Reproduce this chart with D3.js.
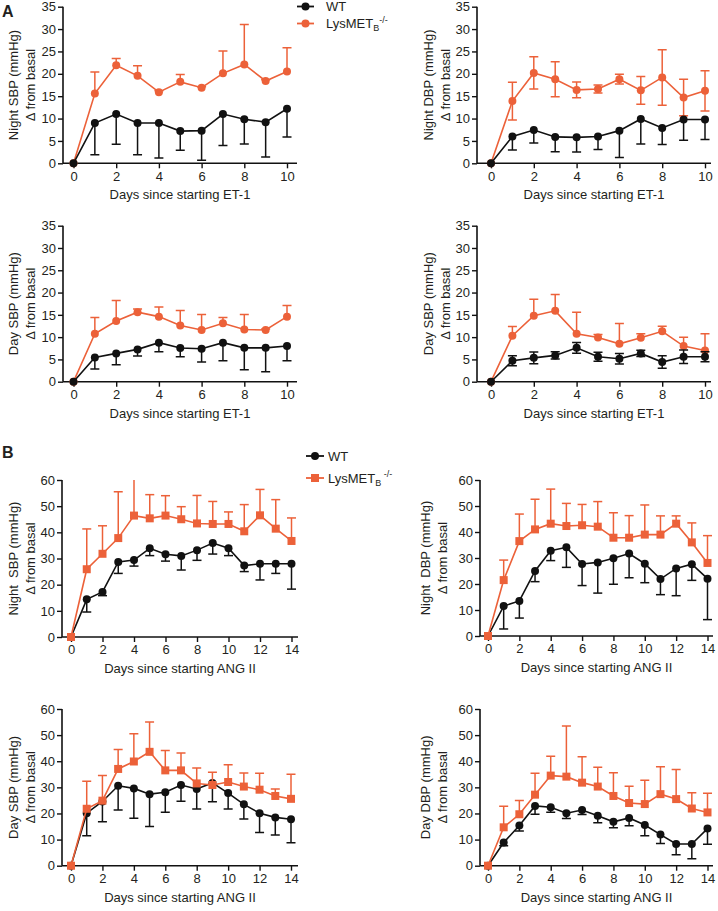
<!DOCTYPE html>
<html><head><meta charset="utf-8">
<script src="https://cdn.jsdelivr.net/npm/d3@7"></script>
<style>
body{margin:0;background:#fff;}
text{font-family:"Liberation Sans",Arial,Helvetica,sans-serif;fill:#231f20;white-space:pre;}
</style></head>
<body>
<svg id="c" width="718" height="911"></svg>
<script>
// ---------- DATA ----------
const daysET = [0,1,2,3,4,5,6,7,8,9,10];
const daysANG = [0,1,2,3,4,5,6,7,8,9,10,11,12,13,14];
const xTicksET = [0,2,4,6,8,10];
const xTicksANG = [0,2,4,6,8,10,12,14];
const yTicksET = [0,5,10,15,20,25,30,35];
const yTicksANG = [0,10,20,30,40,50,60];
const seriesNames = ["WT", "LysMET"];

// A: Night SBP, ET-1
const nightSbpEtWT     = [0, 9.0, 11.0, 9.0, 9.0, 7.2, 7.3, 11.0, 9.85, 9.2, 12.2];
const nightSbpEtWTsem  = [0, 7.1, 6.75, 7.1, 7.8, 4.3, 6.6, 7.0, 5.55, 7.8, 6.3];
const nightSbpEtKO     = [0, 15.6, 21.9, 19.55, 15.9, 18.2, 16.9, 20.1, 22.1, 18.4, 20.5];
const nightSbpEtKOsem  = [0, 4.8, 1.5, 2.25, 0.3, 1.65, 0.2, 5.0, 8.9, 0.3, 5.3];
// A: Night DBP, ET-1
const nightDbpEtWT     = [0, 6.0, 7.45, 5.9, 5.8, 6.0, 7.3, 9.9, 7.9, 9.8, 9.8];
const nightDbpEtWTsem  = [0, 3.0, 2.9, 3.3, 3.3, 2.9, 6.0, 5.6, 3.7, 4.65, 4.5];
const nightDbpEtKO     = [0, 13.9, 20.2, 18.8, 16.4, 16.6, 18.8, 16.3, 19.2, 14.7, 16.2];
const nightDbpEtKOsem  = [0, 4.2, 3.6, 3.9, 1.75, 0.9, 1.1, 3.1, 6.2, 4.1, 4.5];
// A: Day SBP, ET-1 (left)
const daySbpEtWT       = [0, 5.45, 6.35, 7.25, 8.75, 7.55, 7.4, 8.75, 7.6, 7.6, 8.0];
const daySbpEtWTsem    = [0, 2.6, 2.55, 1.5, 2.05, 1.95, 3.0, 4.05, 4.9, 5.35, 3.3];
const daySbpEtKO       = [0, 10.75, 13.6, 15.6, 14.6, 12.6, 11.6, 13.1, 11.7, 11.6, 14.6];
const daySbpEtKOsem    = [0, 3.65, 4.6, 0.7, 2.15, 3.4, 3.5, 1.3, 3.4, 0.2, 2.5];
// A: Day SBP, ET-1 (right)
const daySbpEt2WT      = [0, 4.7, 5.35, 5.9, 7.6, 5.6, 5.15, 6.35, 4.4, 5.6, 5.6];
const daySbpEt2WTsem   = [0, 1.1, 1.3, 0.8, 1.2, 1.0, 1.2, 0.7, 1.4, 1.5, 1.1];
const daySbpEt2KO      = [0, 10.3, 14.8, 15.9, 10.75, 9.9, 8.5, 9.85, 11.3, 8.0, 7.0];
const daySbpEt2KOsem   = [0, 2.1, 3.7, 3.65, 4.85, 0.7, 4.55, 0.9, 1.15, 2.0, 3.75];
// B: Night SBP, ANG II
const nightSbpAngWT    = [0, 14.4, 17.2, 28.7, 29.4, 33.9, 31.6, 31.0, 33.2, 35.9, 33.9, 27.3, 28.0, 28.0, 28.0];
const nightSbpAngWTsem = [0, 4.85, 1.4, 4.4, 2.3, 2.8, 2.6, 5.4, 3.9, 4.2, 2.8, 2.3, 6.2, 3.7, 9.7];
const nightSbpAngKO    = [0, 25.9, 31.8, 37.8, 46.4, 45.35, 46.4, 45.0, 43.4, 43.2, 43.2, 40.4, 46.5, 41.4, 36.7];
const nightSbpAngKOsem = [0, 15.4, 10.7, 17.7, 14.5, 9.05, 7.6, 4.8, 10.7, 8.6, 4.6, 10.2, 9.9, 11.1, 8.8];
// B: Night DBP, ANG II
const nightDbpAngWT    = [0, 11.5, 13.5, 25.0, 32.8, 34.1, 27.7, 28.3, 29.9, 31.7, 27.8, 21.9, 26.0, 27.6, 22.05];
const nightDbpAngWTsem = [0, 8.8, 6.6, 4.1, 3.8, 7.7, 8.3, 11.8, 10.0, 9.3, 7.3, 6.0, 10.5, 6.2, 15.75];
const nightDbpAngKO    = [0, 21.5, 36.5, 41.0, 43.2, 42.3, 42.6, 42.05, 37.8, 37.8, 39.0, 39.0, 43.2, 36.0, 28.1];
const nightDbpAngKOsem = [0, 7.7, 10.4, 11.6, 13.3, 8.7, 8.0, 9.65, 9.6, 8.5, 11.4, 7.2, 3.0, 7.5, 10.5];
// B: Day SBP, ANG II
const daySbpAngWT      = [0, 20.1, 24.6, 30.6, 29.6, 27.4, 28.1, 30.9, 29.4, 31.7, 27.8, 23.5, 20.1, 18.5, 17.8];
const daySbpAngWTsem   = [0, 8.6, 7.8, 9.3, 11.4, 12.4, 7.6, 6.2, 7.7, 7.2, 6.1, 5.6, 7.4, 6.7, 9.0];
const daySbpAngKO      = [0, 21.8, 24.9, 37.05, 39.9, 43.6, 36.5, 36.5, 31.5, 30.9, 32.05, 30.3, 29.1, 26.7, 25.6];
const daySbpAngKOsem   = [0, 10.5, 9.6, 7.45, 10.6, 11.4, 7.6, 6.7, 5.9, 4.9, 6.65, 5.2, 6.3, 2.7, 9.4];
// B: Day DBP, ANG II
const dayDbpAngWT      = [0, 8.85, 15.4, 22.9, 22.4, 20.1, 21.3, 19.1, 16.8, 18.3, 15.6, 11.9, 8.3, 8.3, 14.2];
const dayDbpAngWTsem   = [0, 1.25, 2.1, 3.2, 1.9, 2.0, 1.7, 2.7, 2.3, 3.0, 4.1, 3.4, 4.1, 5.6, 6.0];
const dayDbpAngKO      = [0, 14.7, 19.7, 27.2, 34.5, 34.1, 31.8, 30.3, 26.7, 24.0, 23.6, 27.4, 25.5, 21.9, 20.4];
const dayDbpAngKOsem   = [0, 8.1, 5.3, 8.2, 7.4, 19.4, 9.9, 7.4, 8.9, 6.4, 9.1, 10.5, 11.3, 6.0, 7.3];

// ---------- STYLE / LAYOUT ----------
const BLACK = "#111111", ORANGE = "#EC6139";
const svg = d3.select("#c");

const panels = [
  {days:daysET, xt:xTicksET, yt:yTicksET, ymax:35, xmax:10, ax:63, x0:73.5, x1:287, xe:297, y0:163.3, y1:6.7,
   wt:nightSbpEtWT, wts:nightSbpEtWTsem, ko:nightSbpEtKO, kos:nightSbpEtKOsem, wtDir:"down", koDir:"up", sq:false,
   ylab:["Night SBP (mmHg)","\u0394 from basal"], ylx:13, xlab:"Days since starting ET-1", koFirst:true},
  {days:daysET, xt:xTicksET, yt:yTicksET, ymax:35, xmax:10, ax:477, x0:491, x1:705, xe:711, y0:163.3, y1:6.7,
   wt:nightDbpEtWT, wts:nightDbpEtWTsem, ko:nightDbpEtKO, kos:nightDbpEtKOsem, wtDir:"down", koDir:"both", sq:false,
   ylab:["Night DBP (mmHg)","\u0394 from basal"], ylx:428, xlab:"Days since starting ET-1", koFirst:true},
  {days:daysET, xt:xTicksET, yt:yTicksET, ymax:35, xmax:10, ax:63, x0:73.5, x1:287, xe:297, y0:381.7, y1:225.7,
   wt:daySbpEtWT, wts:daySbpEtWTsem, ko:daySbpEtKO, kos:daySbpEtKOsem, wtDir:"down", koDir:"up", sq:false,
   ylab:["Day SBP (mmHg)","\u0394 from basal"], ylx:13, xlab:"Days since starting ET-1", koFirst:true},
  {days:daysET, xt:xTicksET, yt:yTicksET, ymax:35, xmax:10, ax:477, x0:491, x1:705, xe:711, y0:381.7, y1:225.7,
   wt:daySbpEt2WT, wts:daySbpEt2WTsem, ko:daySbpEt2KO, kos:daySbpEt2KOsem, wtDir:"both", koDir:"up", sq:false,
   ylab:["Day SBP (mmHg)","\u0394 from basal"], ylx:428, xlab:"Days since starting ET-1", koFirst:true},
  {days:daysANG, xt:xTicksANG, yt:yTicksANG, ymax:60, xmax:14, ax:62, x0:71, x1:291.5, xe:298, y0:637, y1:480,
   wt:nightSbpAngWT, wts:nightSbpAngWTsem, ko:nightSbpAngKO, kos:nightSbpAngKOsem, wtDir:"down", koDir:"up", sq:true,
   ylab:["Night  SBP (mmHg)","\u0394 from basal"], ylx:13, xlab:"Days since starting ANG II", koFirst:false},
  {days:daysANG, xt:xTicksANG, yt:yTicksANG, ymax:60, xmax:14, ax:480, x0:488, x1:707.5, xe:713, y0:636, y1:480,
   wt:nightDbpAngWT, wts:nightDbpAngWTsem, ko:nightDbpAngKO, kos:nightDbpAngKOsem, wtDir:"down", koDir:"up", sq:true,
   ylab:["Night  DBP (mmHg)","\u0394 from basal"], ylx:425, xlab:"Days since starting ANG II", koFirst:false},
  {days:daysANG, xt:xTicksANG, yt:yTicksANG, ymax:60, xmax:14, ax:62, x0:71, x1:291, xe:298, y0:865.7, y1:709,
   wt:daySbpAngWT, wts:daySbpAngWTsem, ko:daySbpAngKO, kos:daySbpAngKOsem, wtDir:"down", koDir:"up", sq:true,
   ylab:["Day SBP (mmHg)","\u0394 from basal"], ylx:13, xlab:"Days since starting ANG II", koFirst:false},
  {days:daysANG, xt:xTicksANG, yt:yTicksANG, ymax:60, xmax:14, ax:480, x0:488, x1:707.5, xe:713, y0:865.7, y1:709,
   wt:dayDbpAngWT, wts:dayDbpAngWTsem, ko:dayDbpAngKO, kos:dayDbpAngKOsem, wtDir:"down", koDir:"up", sq:true,
   ylab:["Day DBP (mmHg)","\u0394 from basal"], ylx:425, xlab:"Days since starting ANG II", koFirst:false}
];

panels.forEach((p, pi) => {
  const x = d3.scaleLinear().domain([0, p.xmax]).range([p.x0, p.x1]);
  const y = d3.scaleLinear().domain([0, p.ymax]).range([p.y0, p.y1]);
  const g = svg.append("g");
  const clipId = "clip" + pi;
  svg.append("clipPath").attr("id", clipId).append("rect")
    .attr("x", p.ax - 20).attr("y", p.y1).attr("width", p.xe - p.ax + 40).attr("height", p.y0 - p.y1 + 20);

  // axes
  const yAxis = d3.axisLeft(y).tickValues(p.yt).tickSize(5).tickPadding(2).tickSizeOuter(0);
  const ya = g.append("g").attr("transform", `translate(${p.ax},0)`).call(yAxis);
  ya.select(".domain").remove();
  ya.append("line").attr("x1",0).attr("x2",0).attr("y1",p.y0).attr("y2",p.y1).attr("stroke",BLACK).attr("stroke-width",1.6);
  const xAxis = d3.axisBottom(x).tickValues(p.xt).tickSize(5).tickPadding(3).tickSizeOuter(0);
  const xa = g.append("g").attr("transform", `translate(0,${p.y0})`).call(xAxis);
  xa.select(".domain").remove();
  xa.append("line").attr("x1",p.ax).attr("x2",p.xe).attr("y1",0).attr("y2",0).attr("stroke",BLACK).attr("stroke-width",1.6);
  [ya, xa].forEach(a => {
    a.selectAll(".tick line").attr("stroke", BLACK).attr("stroke-width", 1.4);
    a.selectAll(".tick text").attr("fill", "#231f20").style("font-size", "13px")
      .style("font-family", '"Liberation Sans",Arial,sans-serif');
  });

  // axis titles
  const ymid = (p.y0 + p.y1) / 2;
  p.ylab.forEach((t, i) => {
    g.append("text").attr("transform", `translate(${p.ylx + i*17},${ymid}) rotate(-90)`)
      .attr("text-anchor","middle").attr("dy","0.35em").style("font-size","13px").text(t);
  });
  g.append("text").attr("x", (p.ax + p.xe)/2).attr("y", p.y0 + 36)
    .attr("text-anchor","middle").style("font-size","13px").text(p.xlab);

  const drawSeries = (vals, sems, dir, color, square) => {
    const pts = p.days.map((d, i) => ({d, v: vals[i], s: sems[i]}));
    const eg = g.append("g").attr("clip-path", `url(#${clipId})`);
    pts.filter(o => o.s > 0).forEach(o => {
      const top = dir === "down" ? o.v : o.v + o.s;
      const bot = dir === "up" ? o.v : o.v - o.s;
      eg.append("line").attr("x1", x(o.d)).attr("x2", x(o.d)).attr("y1", y(top)).attr("y2", y(bot))
        .attr("stroke", color).attr("stroke-width", 1.5);
      if (dir !== "down") eg.append("line").attr("x1", x(o.d)-4.5).attr("x2", x(o.d)+4.5)
        .attr("y1", y(o.v + o.s)).attr("y2", y(o.v + o.s)).attr("stroke", color).attr("stroke-width", 1.5);
      if (dir !== "up") eg.append("line").attr("x1", x(o.d)-4.5).attr("x2", x(o.d)+4.5)
        .attr("y1", y(o.v - o.s)).attr("y2", y(o.v - o.s)).attr("stroke", color).attr("stroke-width", 1.5);
    });
    const line = d3.line().x(o => x(o.d)).y(o => y(o.v));
    g.append("path").datum(pts).attr("d", line).attr("fill","none").attr("stroke", color).attr("stroke-width", 1.6);
    if (square) {
      g.selectAll(null).data(pts).enter().append("rect")
        .attr("x", o => x(o.d) - 4).attr("y", o => y(o.v) - 4).attr("width", 8).attr("height", 8).attr("fill", color);
    } else {
      g.selectAll(null).data(pts).enter().append("circle")
        .attr("cx", o => x(o.d)).attr("cy", o => y(o.v)).attr("r", 4).attr("fill", color);
    }
  };
  if (p.koFirst) {
    drawSeries(p.ko, p.kos, p.koDir, ORANGE, p.sq);
    drawSeries(p.wt, p.wts, p.wtDir, BLACK, false);
  } else {
    drawSeries(p.wt, p.wts, p.wtDir, BLACK, false);
    drawSeries(p.ko, p.kos, p.koDir, ORANGE, p.sq);
  }
});

// panel letters
svg.append("text").attr("x", 2).attr("y", 17).style("font-size","16px").style("font-weight","bold").text("A");
svg.append("text").attr("x", 2).attr("y", 458).style("font-size","16px").style("font-weight","bold").text("B");

// legends
function legend(lx, len, tx, ly, square, spaced) {
  const items = [{name: seriesNames[0], c: BLACK, sq: false}, {name: seriesNames[1], c: ORANGE, sq: square}];
  items.forEach((it, i) => {
    const yy = ly[i];
    svg.append("line").attr("x1", lx).attr("x2", lx + len).attr("y1", yy).attr("y2", yy).attr("stroke", it.c).attr("stroke-width", 1.8);
    if (it.sq) svg.append("rect").attr("x", lx + len/2 - 4).attr("y", yy - 4).attr("width", 8).attr("height", 8).attr("fill", it.c);
    else svg.append("circle").attr("cx", lx + len/2).attr("cy", yy).attr("r", 4).attr("fill", it.c);
    const t = svg.append("text").attr("x", tx).attr("y", yy).attr("dy", "0.36em").style("font-size", "13px");
    t.append("tspan").text(it.name);
    if (i === 1) {
      t.append("tspan").attr("dy", "0.35em").style("font-size", "9px").text("B");
      t.append("tspan").attr("dy", "-0.95em").style("font-size", "9px").text((spaced ? "\u00a0" : "") + "-/-");
    }
  });
}
legend(297, 17, 326, [6.5, 23.5], false, false);
legend(306, 18, 328, [456, 478], true, true);
</script>
</body></html>
